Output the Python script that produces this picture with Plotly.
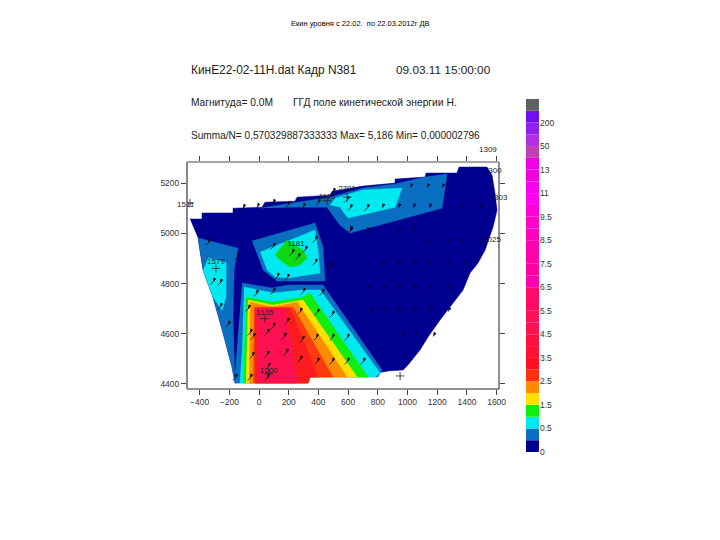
import plotly.graph_objects as go

# --- map bands (x, y in metres on the chart's own axes) ---
navy_x = [-465,-384,-384,-175,-175,20,40,242,256,478,492,700,916,916,1118,1125,1333,1347,1535,1569,1589,1603,1576,1522,1475,1421,1374,1286,1219,1138,1084,1003,970,869,835,-162,-182,-242,-310,-377,-411]
navy_y = [5057,5057,5081,5081,5100,5104,5124,5128,5144,5152,5168,5188,5200,5216,5224,5240,5240,5264,5264,5232,5160,5093,5025,4933,4882,4842,4774,4706,4655,4587,4535,4476,4456,4452,4448,4404,4468,4603,4746,4854,4981]
left_blue_x = [-411,-141,-168,-175,-162,-182,-242,-310,-377]
left_blue_y = [4981,4941,4854,4655,4408,4468,4603,4746,4854]
left_cyan_x = [-377,-310,-249,-222,-222,-343]
left_cyan_y = [4854,4746,4694,4746,4886,4901]
diamond_blue_x = [-47,377,431,444,121,27]
diamond_blue_y = [4969,5041,4945,4810,4810,4854]
diamond_cyan_x = [7,377,397,411,195,108,54]
diamond_cyan_y = [4925,5013,4933,4842,4822,4826,4854]
diamond_green_x = [108,189,296,323,276,209,141]
diamond_green_y = [4913,4973,4933,4901,4874,4866,4894]
upper_blue_x = [7,263,478,700,916,1118,1266,1232,613,545,458,276]
upper_blue_y = [5100,5124,5144,5180,5196,5224,5236,5100,5001,5033,5104,5104]
upper_cyan_x = [478,512,700,963,916,599,545]
upper_cyan_y = [5112,5140,5172,5180,5104,5061,5104]
main_blue_x = [-114,88,195,431,828,801,343,330,-162,-162]
main_blue_y = [4802,4782,4794,4794,4456,4428,4428,4404,4404,4444]
main_cyan_x = [-101,94,296,411,815,781,343,330,-128,-114]
main_cyan_y = [4786,4762,4774,4774,4444,4428,4428,4404,4404,4523]
main_green_x = [-88,94,296,343,734,343,330,-108]
main_green_y = [4746,4726,4746,4762,4428,4428,4404,4404]
main_yellow_x = [-74,94,296,660,343,330,-88]
main_yellow_y = [4734,4714,4734,4428,4428,4404,4404]
main_orange_x = [-61,94,256,593,343,330,-67]
main_orange_y = [4726,4706,4726,4428,4428,4404,4404]
main_redorange_x = [-34,229,498,343,330,-40]
main_redorange_y = [4706,4706,4428,4428,4404,4404]
main_red_x = [-27,209,397,343,330,-27]
main_red_y = [4702,4702,4428,4428,4404,4404]
main_crimson_x = [-20,175,260,-7]
main_crimson_y = [4699,4699,4404,4404]

# --- vector positions: those lying in the navy area, then the others ---
navy_arrow_x = [1151,1266,1367,1508,828,936,1037,1151,1266,1387,613,727,929,1037,828,936,1037,1145,1367,1488,1017,1131,1232,
                734,835,936,1037,1151,1266,747,848,936,1037,1145,1273,963,1050,1172]
navy_arrow_y = [4961,4961,4961,4961,4874,4874,4874,4874,4874,4874,5005,5005,5005,5005,5100,5100,5100,5100,5100,5100,5180,5180,5180,
                4774,4774,4774,4774,4774,4774,4687,4687,4687,4687,4687,4687,4587,4587,4587]
arrow_x = [613,727,
           -74,276,391,492,189,94,-61,-40,54,168,290,384,492,593,-47,54,182,276,391,492,593,700,61,-61,54,-162,
           -263,-310,-263,-209,-20,94,296,424,121,189,-343,-148,94,222,263,310,377,377,478,-108,-13,94,195,296,397,498,593,613]
arrow_y = [5100,5100,
           4699,4687,4683,4675,4647,4627,4603,4587,4603,4587,4575,4583,4583,4583,4511,4515,4523,4496,4488,4488,4488,4488,4468,4424,4424,4424,
           4802,4806,4706,4635,4758,4766,4766,4762,4826,4822,4961,4905,4945,4921,4905,4933,4973,4882,4866,5100,5104,5120,5112,5104,5120,5164,5132,5013]

# --- station labels inside the frame ---
station_x = [593,458,249,-290,40,67,1589,1569]
station_y = [5176,5144,4957,4886,4683,4452,5248,4973]
station_names = ["2701","1113","1181","1579","1105","1200","300","1025"]
cross_x = [593,458,950,-465,67,-290,40]
cross_y = [5144,5130,4432,5120,4440,4860,4660]

# --- axes ---
x_ticks = [-400,-200,0,200,400,600,800,1000,1200,1400,1600]
y_ticks = [4400,4600,4800,5000,5200]

# --- colour scale ---
scale_colors = ["#000090","#0a6fc0","#00e8f0","#10ee10","#ffe000","#ff8c00","#ff3010","#ff1020","#ff1030","#ff1040",
                "#ff1050","#ff1058","#ff0a60","#ff0a68","#ff00b0","#ff00a0","#ff00a8","#ff00b0","#ff00c0","#ff00c8",
                "#ff00d8","#ff00f0","#f800f0","#f000e0","#f000e8","#c040b0","#b030e0","#9020f0","#7010f0","#606060"]
scale_tick_pos = [0,2,4,6,8,10,12,14,16,18,20,22,24,26,28]
scale_tick_txt = ["0","0.5","1.5","2.5","3.5","4.5","5.5","6.5","7.5","8.5","9.5","11","13","50","200"]

bands = [
    (navy_x, navy_y, "#000090"),
    (left_blue_x, left_blue_y, "#0a6fc0"),
    (left_cyan_x, left_cyan_y, "#00e8f0"),
    (upper_blue_x, upper_blue_y, "#0a6fc0"),
    (upper_cyan_x, upper_cyan_y, "#00e8f0"),
    (diamond_blue_x, diamond_blue_y, "#0a6fc0"),
    (diamond_cyan_x, diamond_cyan_y, "#00e8f0"),
    (diamond_green_x, diamond_green_y, "#10d810"),
    (main_blue_x, main_blue_y, "#0a6fc0"),
    (main_cyan_x, main_cyan_y, "#00e8f0"),
    (main_green_x, main_green_y, "#10ee10"),
    (main_yellow_x, main_yellow_y, "#ffe000"),
    (main_orange_x, main_orange_y, "#ff8c00"),
    (main_redorange_x, main_redorange_y, "#ff3a10"),
    (main_red_x, main_red_y, "#ff1a20"),
    (main_crimson_x, main_crimson_y, "#ff1050"),
]

FONT = "Liberation Sans"

fig = go.Figure()
for bx, by, col in bands:
    fig.add_trace(go.Scatter(x=bx, y=by, mode="lines", fill="toself", fillcolor=col,
                             line=dict(color=col, width=0.5), hoverinfo="skip", showlegend=False))
fig.add_trace(go.Scatter(x=navy_arrow_x, y=navy_arrow_y, mode="markers", showlegend=False,
                         marker=dict(symbol="arrow", size=5, angle=205, color="#000040", line=dict(width=0))))
fig.add_trace(go.Scatter(x=arrow_x, y=arrow_y, mode="markers", showlegend=False,
                         marker=dict(symbol="line-ne-open", size=5, color="#101018", line=dict(color="#101018", width=0.8))))
fig.add_trace(go.Scatter(x=arrow_x, y=arrow_y, mode="markers", showlegend=False,
                         marker=dict(symbol="arrow", size=4.5, angle=205, color="#05050f", line=dict(width=0))))
fig.add_trace(go.Scatter(x=cross_x, y=cross_y, mode="markers", showlegend=False,
                         marker=dict(symbol="cross-thin-open", size=6, color="#222", line=dict(color="#222", width=0.8))))
fig.add_trace(go.Scatter(x=station_x, y=station_y, mode="text", text=station_names, cliponaxis=False, showlegend=False,
                         textfont=dict(family=FONT, size=8, color="#222")))
fig.add_trace(go.Bar(x=[0]*len(scale_colors), y=[1]*len(scale_colors), base=list(range(len(scale_colors))),
                     marker=dict(color=scale_colors, line=dict(width=0)), width=1,
                     xaxis="x2", yaxis="y2", showlegend=False))

W, H = 720, 540
def txt(s, px, py, size, anchor="left", color="#222", family=FONT):
    return dict(text=s, x=px/W, y=1-py/H, xref="paper", yref="paper", showarrow=False, xanchor=anchor, yanchor="middle",
                font=dict(family=family, size=size, color=color))

annots = [
    txt("Екин уровня с 22.02.  по 22.03.2012г ДВ", 360, 24, 7.5, "center", "#000"),
    txt("КинЕ22-02-11H.dat Кадр N381", 189, 70, 11.9),
    txt("09.03.11 15:00:00", 394, 70, 11.8),
    txt("Магнитуда= 0.0М", 189, 102, 10.2),
    txt("ГГД поле кинетической энергии Н.", 291, 102, 10.3),
    txt("Summa/N= 0,570329887333333 Max= 5,186 Min= 0,000002796", 189, 136, 10.1),
    txt("1309", 488, 149, 8, "center"),
    txt("1511", 186, 204, 8, "center"),
    txt("303", 501, 197, 8, "center"),
]

def edge(x0, y0, x1, y1, col, w):
    return dict(type="line", xref="x domain", yref="y domain", x0=x0, y0=y0, x1=x1, y1=y1, line=dict(color=col, width=w))

fig.update_layout(
    width=W, height=H, margin=dict(l=0, r=0, t=0, b=0, autoexpand=False), paper_bgcolor="white", plot_bgcolor="white",
    barmode="overlay", annotations=annots,
    shapes=[edge(0,0,1,0,"#222",1), edge(1,0,1,1,"#222",1), edge(0,0,0,1,"#888",2), edge(0,1,1,1,"#888",1.5)],
    xaxis=dict(domain=[187/W, 499/W], range=[-485,1616], tickvals=x_ticks, ticks="outside", ticklen=5, tickcolor="#444",
               showgrid=False, zeroline=False, showline=False, mirror="ticks",
               tickfont=dict(family=FONT, size=8.5, color="#333")),
    yaxis=dict(domain=[1-389/H, 1-162/H], range=[4380,5284], tickvals=y_ticks, ticks="outside", ticklen=5, tickcolor="#444",
               showgrid=False, zeroline=False, showline=False, mirror="ticks",
               tickfont=dict(family=FONT, size=8.5, color="#333")),
    xaxis2=dict(domain=[526/W, 539/W], range=[-0.5,0.5], visible=False, anchor="y2"),
    yaxis2=dict(domain=[1-452/H, 1-99/H], range=[0,30], anchor="x2", side="right", tickmode="array",
                tickvals=scale_tick_pos, ticktext=scale_tick_txt, ticks="", showgrid=False, zeroline=False, showline=False,
                tickfont=dict(family=FONT, size=8.5, color="#333")),
)
fig.write_html("out.html", post_script="document.body.style.margin='0';", config={"displayModeBar": False})
